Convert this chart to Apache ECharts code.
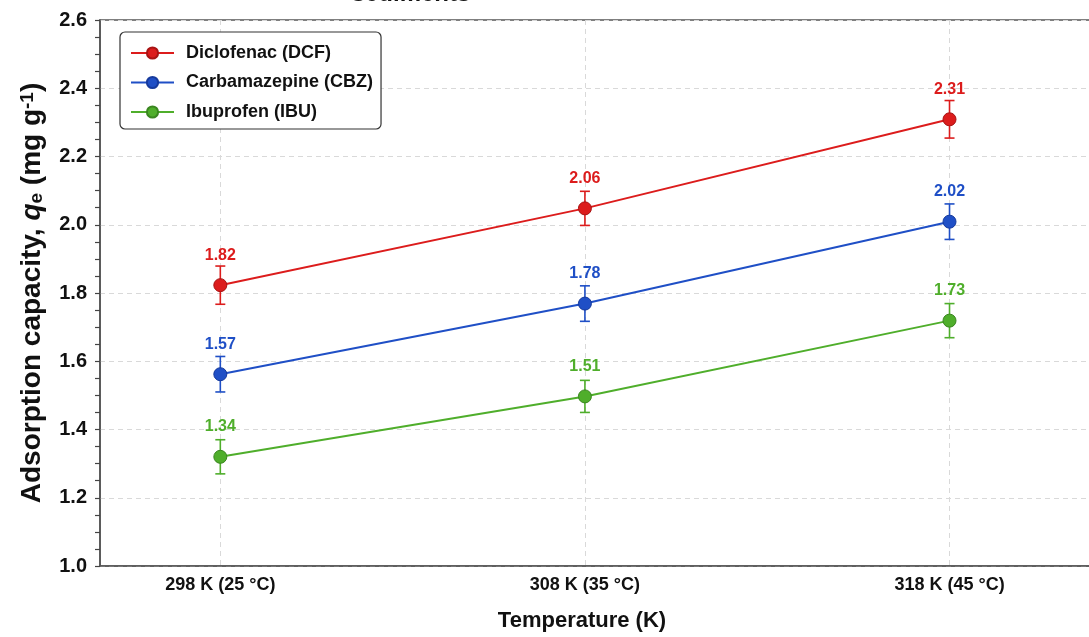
<!DOCTYPE html>
<html>
<head>
<meta charset="utf-8">
<script src="https://cdn.jsdelivr.net/npm/echarts@6/dist/echarts.min.js"></script>
<style>
html,body{margin:0;padding:0;background:#fff;}
#chart{width:1089px;height:637px;}
</style>
</head>
<body>
<div id="chart"></div>
<script>
// ---- data ----
const temperatures = [298, 308, 318];
const tickLabels = ['298 K (25 °C)', '308 K (35 °C)', '318 K (45 °C)'];
const seriesNames = ['Diclofenac (DCF)', 'Carbamazepine (CBZ)', 'Ibuprofen (IBU)'];
const dcfValues = [1.823, 2.048, 2.309];
const cbzValues = [1.562, 1.769, 2.009];
const ibuValues = [1.320, 1.497, 1.719];
const dcfErrors = [0.056, 0.050, 0.055];
const cbzErrors = [0.052, 0.052, 0.052];
const ibuErrors = [0.050, 0.047, 0.050];
const dcfLabels = ['1.82', '2.06', '2.31'];
const cbzLabels = ['1.57', '1.78', '2.02'];
const ibuLabels = ['1.34', '1.51', '1.73'];

const FONT = '"Liberation Sans", Arial, sans-serif';
const colors = ['#dc1c1c', '#1f4fc6', '#4fae2b'];
const borders = ['#a81414', '#163a9c', '#3a8620'];

const groups = [
  {name: seriesNames[0], vals: dcfValues, errs: dcfErrors, labels: dcfLabels},
  {name: seriesNames[1], vals: cbzValues, errs: cbzErrors, labels: cbzLabels},
  {name: seriesNames[2], vals: ibuValues, errs: ibuErrors, labels: ibuLabels}
];

const series = [];
groups.forEach((g, i) => {
  series.push({
    type: 'custom',
    name: g.name + ' err',
    z: 1,
    silent: true,
    data: temperatures.map((t, k) => [t, g.vals[k] - g.errs[k], g.vals[k] + g.errs[k]]),
    renderItem: function (params, api) {
      const x = api.value(0);
      const lo = api.coord([x, api.value(1)]);
      const hi = api.coord([x, api.value(2)]);
      const cap = 5;
      const st = {stroke: colors[i], lineWidth: 1.6};
      return {
        type: 'group',
        children: [
          {type: 'line', shape: {x1: hi[0], y1: hi[1], x2: lo[0], y2: lo[1]}, style: st},
          {type: 'line', shape: {x1: hi[0] - cap, y1: hi[1], x2: hi[0] + cap, y2: hi[1]}, style: st},
          {type: 'line', shape: {x1: lo[0] - cap, y1: lo[1], x2: lo[0] + cap, y2: lo[1]}, style: st}
        ]
      };
    }
  });
  series.push({
    type: 'line',
    name: g.name,
    z: 3,
    data: temperatures.map((t, k) => [t, g.vals[k]]),
    symbol: 'circle',
    symbolSize: 13,
    lineStyle: {color: colors[i], width: 2},
    itemStyle: {color: colors[i], borderColor: borders[i], borderWidth: 1},
    label: {
      show: true,
      position: 'top',
      distance: 15,
      color: colors[i],
      fontFamily: FONT,
      fontWeight: 'bold',
      fontSize: 16,
      formatter: p => g.labels[p.dataIndex]
    },
    emphasis: {disabled: true}
  });
});

const chart = echarts.init(document.getElementById('chart'));
chart.setOption({
  animation: false,
  backgroundColor: '#ffffff',
  textStyle: {fontFamily: FONT},
  grid: {left: 100, right: -10, top: 20, bottom: 71, show: true, borderColor: '#555', borderWidth: 1.6,
         containLabel: false, outerBoundsMode: 'none'},
  legend: {
    orient: 'vertical',
    left: 120,
    top: 32,
    data: seriesNames,
    itemWidth: 43,
    itemHeight: 14,
    itemGap: 11.5,
    padding: [12, 8, 8, 10],
    borderColor: '#333',
    borderWidth: 1.2,
    borderRadius: 5,
    backgroundColor: '#fff',
    textStyle: {fontFamily: FONT, fontWeight: 'bold', fontSize: 18, color: '#111', padding: [0, 0, 0, 7]}
  },
  xAxis: {
    type: 'value',
    min: 294.7,
    max: 322.1,
    axisLine: {show: true, lineStyle: {color: '#555', width: 1.6}},
    axisTick: {show: false, customValues: temperatures},
    axisLabel: {
      customValues: temperatures,
      margin: 10,
      fontFamily: FONT, fontWeight: 'bold', fontSize: 18, color: '#111',
      formatter: v => tickLabels[temperatures.indexOf(v)]
    },
    splitLine: {show: true, lineStyle: {color: '#d9d9d9', type: [5, 4], width: 1}}
  },
  yAxis: {
    type: 'value',
    min: 1.0,
    max: 2.6,
    interval: 0.2,
    axisLine: {show: true, lineStyle: {color: '#555', width: 1.6}},
    axisTick: {show: true, length: 5, lineStyle: {color: '#444', width: 1.2}},
    minorTick: {show: true, splitNumber: 4, length: 5, lineStyle: {color: '#444', width: 1.2}},
    axisLabel: {
      margin: 13,
      fontFamily: FONT, fontWeight: 'bold', fontSize: 20, color: '#111',
      formatter: v => v.toFixed(1)
    },
    splitLine: {show: true, lineStyle: {color: '#d9d9d9', type: [5, 4], width: 1}},
    name: '{a|Adsorption capacity, }{q|q}{s|e}{a| (mg g}{p|-1}{a|)}',
    nameLocation: 'middle',
    nameRotate: 90,
    nameGap: 54,
    nameTextStyle: {
      rich: {
        a: {fontFamily: FONT, fontWeight: 'bold', fontSize: 28, color: '#111'},
        q: {fontFamily: FONT, fontWeight: 'bold', fontStyle: 'italic', fontSize: 28, color: '#111'},
        s: {fontFamily: FONT, fontWeight: 'bold', fontSize: 19, color: '#111', verticalAlign: 'bottom', padding: [8, 0, 0, 0]},
        p: {fontFamily: FONT, fontWeight: 'bold', fontSize: 19, color: '#111', verticalAlign: 'top', padding: [0, 0, 8, 0]}
      }
    }
  },
  graphic: [
    {type: 'text', x: 411, y: -6, z: 10,
     style: {text: 'sediments', align: 'center', verticalAlign: 'middle', font: 'bold 24px ' + FONT, fill: '#111'}},
    {type: 'text', x: 582, y: 621, z: 10,
     style: {text: 'Temperature (K)', align: 'center', verticalAlign: 'middle', font: 'bold 22px ' + FONT, fill: '#111'}}
  ],
  series: series
});
</script>
</body>
</html>
